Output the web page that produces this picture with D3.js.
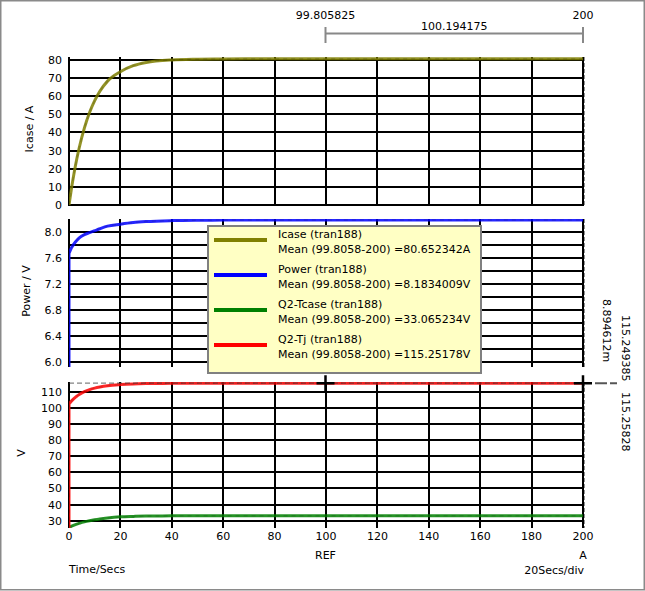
<!DOCTYPE html>
<html><head><meta charset="utf-8">
<script src="https://cdn.jsdelivr.net/npm/d3@7"></script>
<style>
body{margin:0;background:#fff}
svg{display:block}
text{font-family:"DejaVu Sans",Verdana,sans-serif;font-size:11px;fill:#000}
</style>
</head><body>
<svg id="c" width="645" height="591"></svg>
<script>
// ---- data ----
const xTicks = [0,20,40,60,80,100,120,140,160,180,200];
const icaseTicks = [0,10,20,30,40,50,60,70,80];
const powerGrid = [6.0,6.2,6.4,6.6,6.8,7.0,7.2,7.4,7.6,7.8,8.0];
const powerLabels = [6.0,6.4,6.8,7.2,7.6,8.0];
const vTicks = [30,40,50,60,70,80,90,100,110];

const icaseTime = [0,1,2,3,4,6,8,10,12,15,20,25,30,40,50,60,80,100,150,200];
const icaseVal  = [0,9.5,17.8,25.2,31.7,42.5,51.0,57.5,62.7,68.3,73.5,76.8,78.6,80.0,80.4,80.55,80.63,80.65,80.65,80.65];

const powerStart = 0;
const powerTime = [0,1,2,3,4,6,8,10,12,15,20,25,30,40,50,60,80,100,150,200];
const powerVal  = [7.67,7.76,7.82,7.87,7.91,7.96,7.99,8.02,8.05,8.09,8.12,8.145,8.16,8.175,8.181,8.183,8.184,8.184,8.184,8.184];

const tjStart = 0;
const tjTime = [0,1,2,3,4,6,8,10,12,15,20,25,30,40,50,60,80,100,150,200];
const tjVal  = [102.4,104.3,105.9,107.2,108.3,110.0,111.3,112.2,112.9,113.7,114.4,114.8,115.0,115.15,115.2,115.23,115.25,115.25,115.25,115.25];

const tcaseTime = [0,1,2,3,4,6,8,10,12,15,20,25,30,40,50,60,80,100,150,200];
const tcaseVal  = [25.8,26.6,27.3,27.9,28.4,29.3,30.0,30.6,31.1,31.7,32.4,32.7,32.9,33.03,33.06,33.07,33.07,33.07,33.07,33.07];

const legendNames = ["Icase (tran188)","Power (tran188)","Q2-Tcase (tran188)","Q2-Tj (tran188)"];
const legendMeans = ["Mean (99.8058-200) =80.652342A","Mean (99.8058-200) =8.1834009V","Mean (99.8058-200) =33.065234V","Mean (99.8058-200) =115.25178V"];
const colors = ["#808000","#0000ff","#008000","#ff0000"];
const meanVals = [80.652342, 8.1834009, 33.065234, 115.25178];
const cursorRef = 99.805825, cursorA = 200;

// ---- layout ----
const svg = d3.select("#c");
const x = d3.scaleLinear().domain([0,200]).range([69,583]);
const yTop = d3.scaleLinear().domain([0,81.6]).range([205,57]);
const yMid = d3.scaleLinear().domain([5.92,8.2]).range([367,219]);
const yBot = d3.scaleLinear().domain([25.5,116]).range([528,382]);

svg.append("rect").attr("x",0.75).attr("y",0.75).attr("width",643.5).attr("height",589)
  .attr("fill","#fff").attr("stroke","#8a8a8a").attr("stroke-width",1.5);

function panel(y, grid, labels, fmt, id, vTop, vBot){
  const g = svg.append("g");
  g.selectAll("line.h").data(grid).join("line")
    .attr("x1",x(0)).attr("x2",x(200)).attr("y1",d=>Math.round(y(d))).attr("y2",d=>Math.round(y(d)))
    .attr("stroke","#000").attr("stroke-width",2);
  g.selectAll("line.v").data(xTicks).join("line")
    .attr("x1",d=>Math.round(x(d))).attr("x2",d=>Math.round(x(d))).attr("y1",vTop).attr("y2",vBot)
    .attr("stroke","#000").attr("stroke-width",2);
  g.selectAll("text").data(labels).join("text")
    .attr("x",62).attr("y",d=>y(d)+4).attr("text-anchor","end").text(fmt);
  g.append("line").attr("x1",x(cursorA)+1.5).attr("x2",x(cursorA)+1.5).attr("y1",vTop).attr("y2",vBot)
    .attr("stroke","#909090").attr("stroke-width",1).attr("stroke-dasharray","4,2");
  svg.append("clipPath").attr("id",id).append("rect")
    .attr("x",x(0)).attr("y",vTop).attr("width",x(200)-x(0)+2).attr("height",vBot-vTop);
  return g;
}
panel(yTop, icaseTicks, icaseTicks, d=>d, "cTop", 57, 206);
panel(yMid, powerGrid, powerLabels, d=>d.toFixed(1), "cMid", 219, 367);
panel(yBot, vTicks, vTicks, d=>d, "cBot", 382, 528);

function curve(times, vals, y, color, clip, start){
  const pts = times.map((t,i)=>[x(t), y(vals[i])]);
  let p = d3.line().curve(d3.curveMonotoneX)(pts);
  if (start !== undefined) p = "M" + x(times[0]) + "," + y(start) + "L" + p.slice(1);
  svg.append("path").attr("d",p).attr("fill","none").attr("stroke",color)
    .attr("stroke-width",3).attr("stroke-opacity",0.85).attr("clip-path","url(#"+clip+")");
  // subtle dashed texture seen on the traces
  svg.append("path").attr("d",p).attr("fill","none").attr("stroke","#000")
    .attr("stroke-width",1.5).attr("stroke-opacity",0.12).attr("stroke-dasharray","4,4")
    .attr("clip-path","url(#"+clip+")");
}
curve(icaseTime, icaseVal, yTop, colors[0], "cTop");
curve(powerTime, powerVal, yMid, colors[1], "cMid", powerStart);
curve(tcaseTime, tcaseVal, yBot, colors[2], "cBot");
curve(tjTime, tjVal, yBot, colors[3], "cBot", tjStart);
// horizontal cursor level
svg.append("line").attr("x1",x(0)).attr("x2",x(200)).attr("y1",yBot(meanVals[3])).attr("y2",yBot(meanVals[3]))
  .attr("stroke","#303030").attr("stroke-width",1.2).attr("stroke-dasharray","5,3").attr("stroke-opacity",0.6);

// x tick labels
svg.selectAll("text.xt").data(xTicks).join("text").attr("class","xt")
  .attr("x",d=>x(d)).attr("y",540).attr("text-anchor","middle").text(d=>d);
svg.append("text").attr("x",x(cursorRef)).attr("y",559).attr("text-anchor","middle").text("REF");
svg.append("text").attr("x",x(cursorA)).attr("y",559).attr("text-anchor","middle").text("A");
svg.append("text").attr("x",584).attr("y",574).attr("text-anchor","end").text("20Secs/div");
svg.append("text").attr("x",69).attr("y",573).text("Time/Secs");

// y titles
svg.append("text").attr("transform","translate(33,129) rotate(-90)").attr("text-anchor","middle").text("Icase / A");
svg.append("text").attr("transform","translate(30,291) rotate(-90)").attr("text-anchor","middle").text("Power / V");
svg.append("text").attr("transform","translate(25,453) rotate(-90)").attr("text-anchor","middle").text("V");

// top measurement
svg.append("text").attr("x",x(cursorRef)).attr("y",19).attr("text-anchor","middle").text("99.805825");
svg.append("text").attr("x",x(cursorA)).attr("y",19).attr("text-anchor","middle").text("200");
svg.append("text").attr("x",(x(cursorRef)+x(cursorA))/2).attr("y",30).attr("text-anchor","middle").text("100.194175");
const mg = svg.append("g").attr("stroke","#888").attr("stroke-width",2);
mg.append("line").attr("x1",x(cursorRef)).attr("x2",x(cursorA)).attr("y1",33.5).attr("y2",33.5);
mg.append("line").attr("x1",x(cursorRef)).attr("x2",x(cursorRef)).attr("y1",27).attr("y2",43);
mg.append("line").attr("x1",x(cursorA)).attr("x2",x(cursorA)).attr("y1",27).attr("y2",43);

// crosses
[cursorRef, cursorA].forEach(c=>{
  const cx = x(c), cy = yBot(meanVals[3]);
  svg.append("path").attr("d",`M${cx-9},${cy}H${cx+9}M${cx},${cy-8}V${cy+8}`)
    .attr("stroke","#000").attr("stroke-width",2.5).attr("fill","none");
});
svg.append("line").attr("x1",595).attr("x2",617).attr("y1",yBot(meanVals[3])).attr("y2",yBot(meanVals[3]))
  .attr("stroke","#555").attr("stroke-width",2).attr("stroke-dasharray","12,3");

// right rotated readouts
svg.append("text").attr("transform","translate(603,299) rotate(90)").text("8.894612m");
svg.append("text").attr("transform","translate(622,315) rotate(90)").text("115.249385");
svg.append("text").attr("transform","translate(622,392) rotate(90)").text("115.25828");

// legend
const lg = svg.append("g");
lg.append("rect").attr("x",208).attr("y",226).attr("width",273).attr("height",147)
  .attr("fill","#ffffc4").attr("stroke","#808080").attr("stroke-width",2);
legendNames.forEach((n,i)=>{
  const by = 238 + 35*i;
  lg.append("line").attr("x1",214).attr("x2",267).attr("y1",by+2).attr("y2",by+2)
    .attr("stroke",colors[i]).attr("stroke-width",4);
  lg.append("text").attr("x",278).attr("y",by).text(n);
  lg.append("text").attr("x",278).attr("y",by+15).text(legendMeans[i]);
});
</script>
</body></html>
